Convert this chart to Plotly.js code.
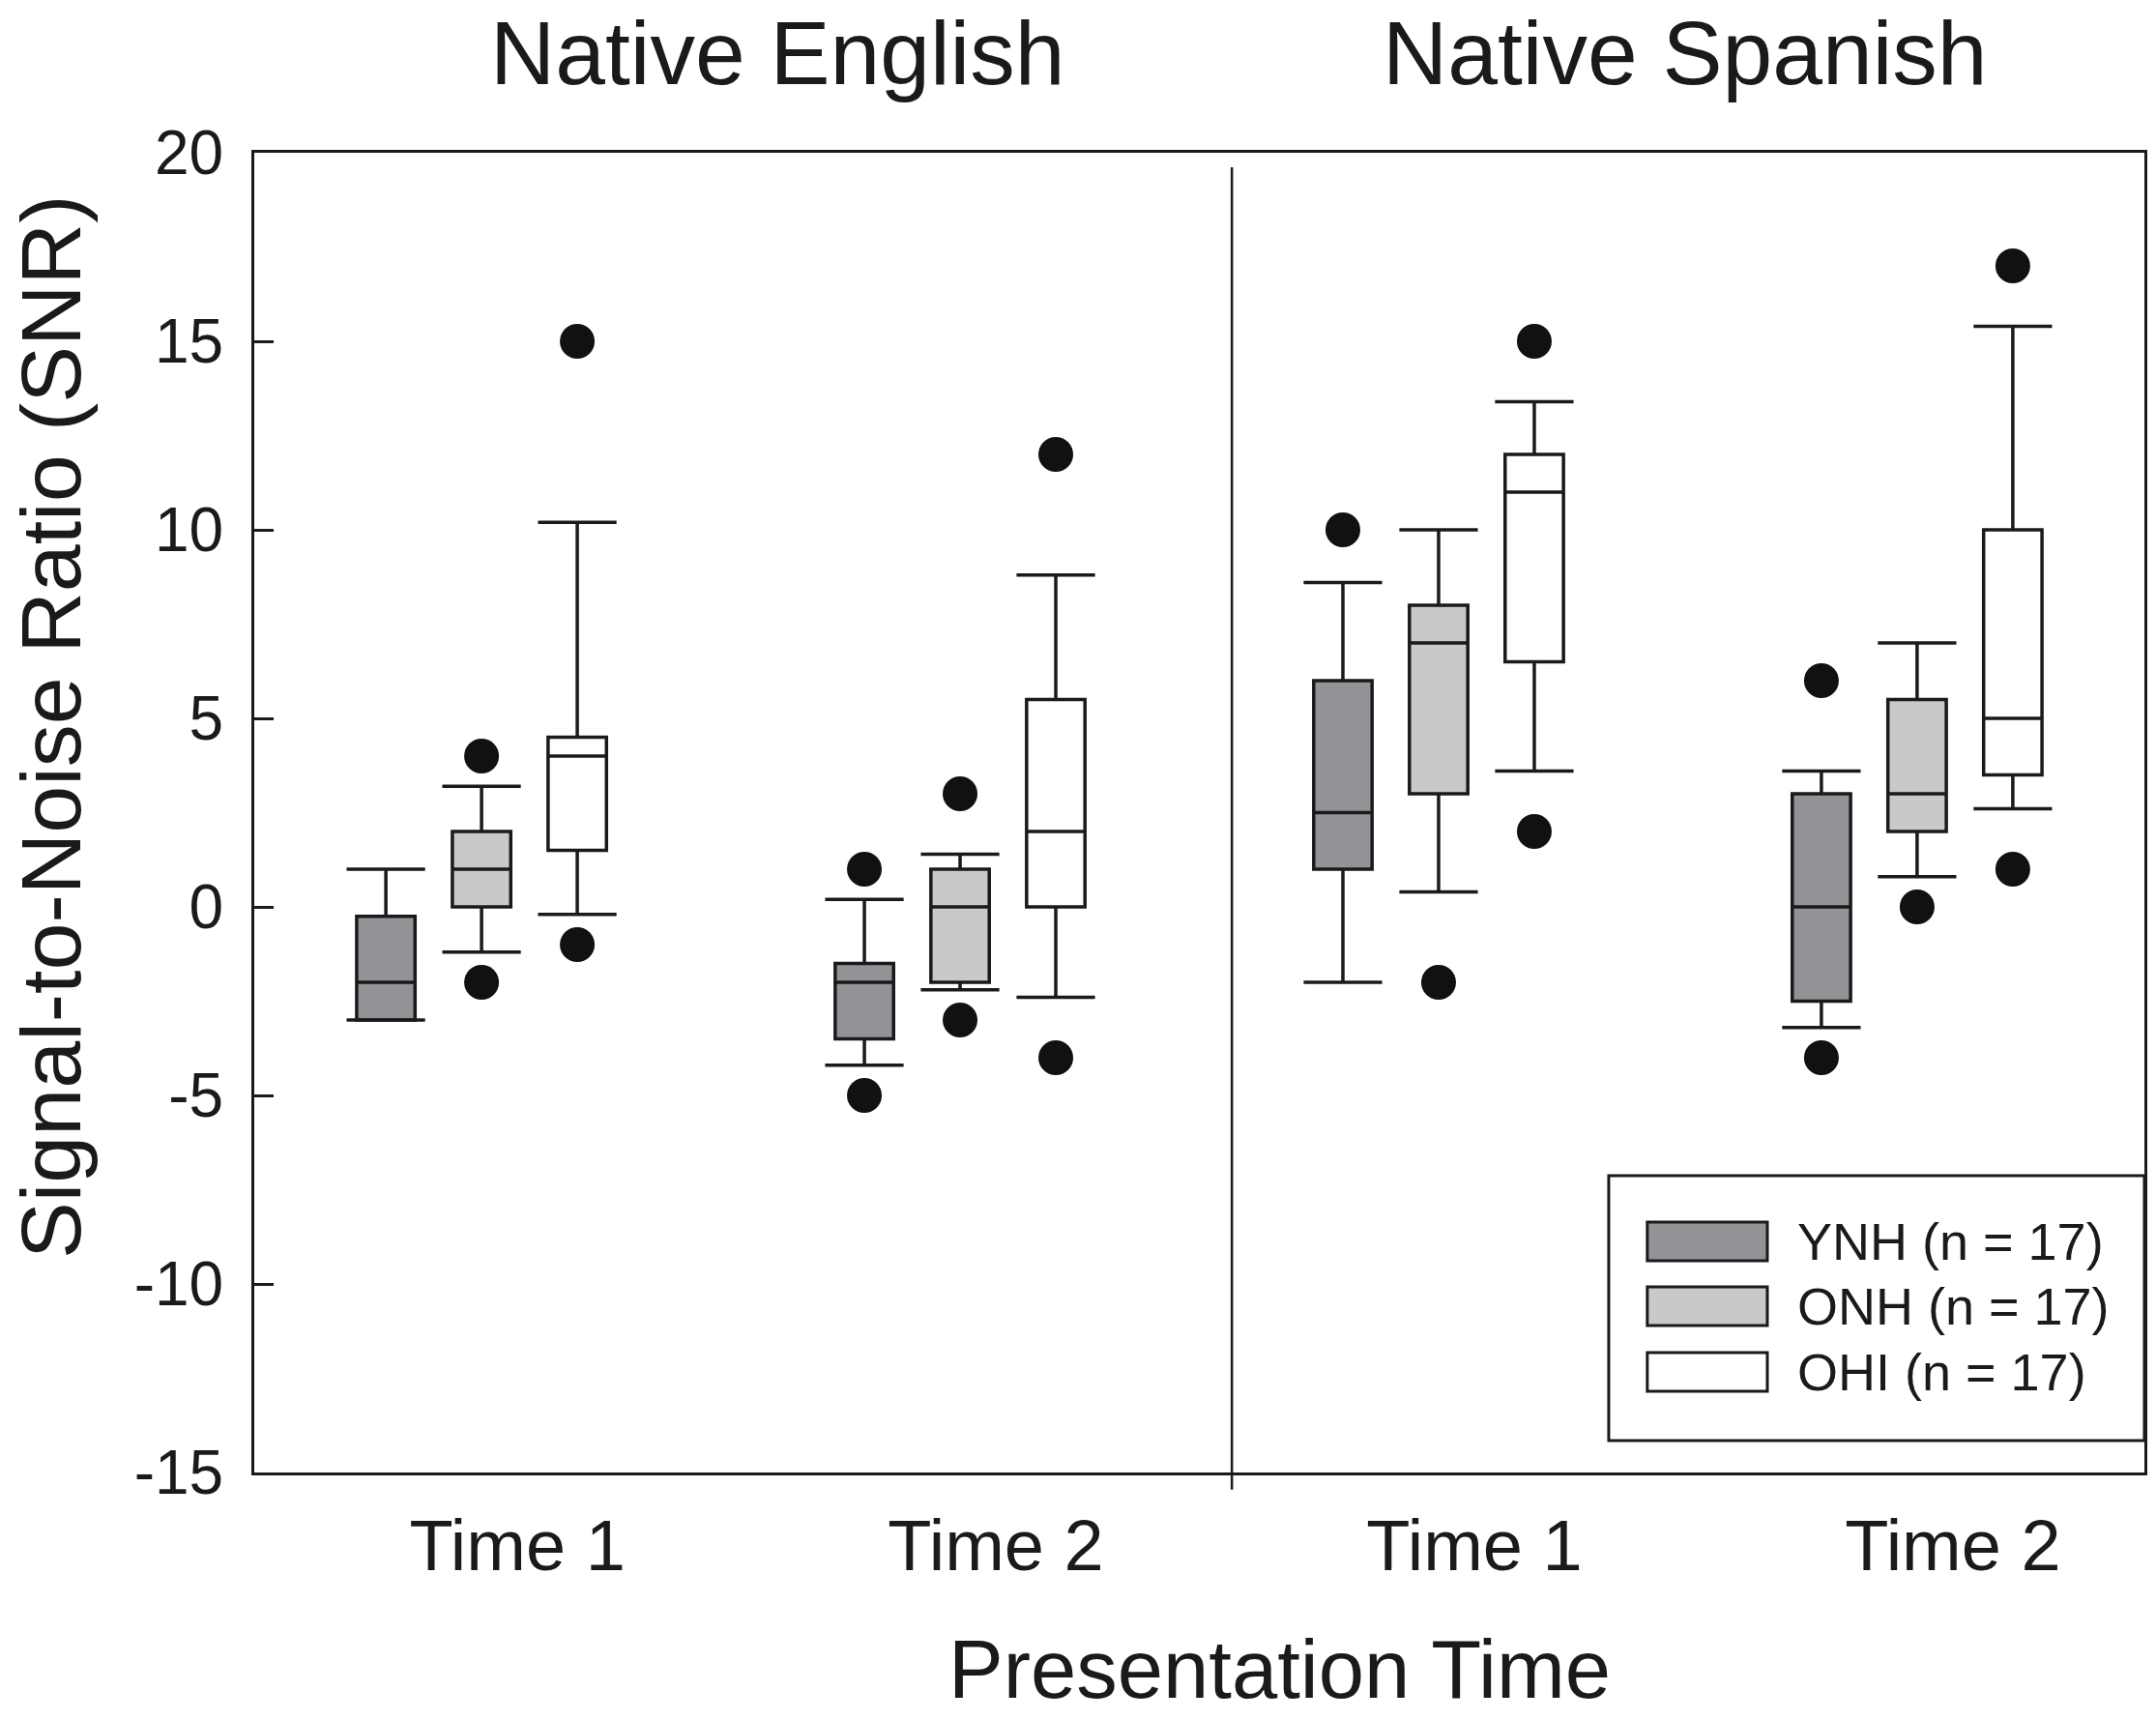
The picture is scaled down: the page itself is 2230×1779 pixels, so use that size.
<!DOCTYPE html>
<html>
<head>
<meta charset="utf-8">
<script src="https://cdn.plot.ly/plotly-3.0.1.min.js"></script>
<style>
  html, body { margin: 0; padding: 0; background: #fff; }
  #snr { width: 2230px; height: 1779px; }
</style>
</head>
<body>
<div id="snr"></div>
<script>
/***** SNR box plots by language group and presentation time *****/
var timeLabels = ['Time 1', 'Time 2', 'Time 1', 'Time 2'];
var panelTitles = ['Native English', 'Native Spanish'];
var groupNames = ['YNH (n = 17)', 'ONH (n = 17)', 'OHI (n = 17)'];
var groupFills = ['#929397', '#c8c9cb', '#ffffff'];
var yTickVals = [-15, -10, -5, 0, 5, 10, 15, 20];
var yTickText = ['-15', '-10', '-5', '0', '5', '10', '15', '20'];

// English T1, English T2, Spanish T1, Spanish T2
var ynhQ1 = [-3, -3.5, 1, -2.5];
var ynhMedian = [-2, -2, 2.5, 0];
var ynhQ3 = [-0.25, -1.5, 6, 3];
var ynhLow = [-3, -4.2, -2, -3.2];
var ynhHigh = [1, 0.2, 8.6, 3.6];
var ynhOutliers = [[], [1, -5], [10], [6, -4]];

var onhQ1 = [0, -2, 3, 2];
var onhMedian = [1, 0, 7, 3];
var onhQ3 = [2, 1, 8, 5.5];
var onhLow = [-1.2, -2.2, 0.4, 0.8];
var onhHigh = [3.2, 1.4, 10, 7];
var onhOutliers = [[4, -2], [3, -3], [-2], [0]];

var ohiQ1 = [1.5, 0, 6.5, 3.5];
var ohiMedian = [4, 2, 11, 5];
var ohiQ3 = [4.5, 5.5, 12, 10];
var ohiLow = [-0.2, -2.4, 3.6, 2.6];
var ohiHigh = [10.2, 8.8, 13.4, 15.4];
var ohiOutliers = [[15, -1], [12, -4], [15, 2], [17, 1]];

var stats = [
  {q1: ynhQ1, median: ynhMedian, q3: ynhQ3, low: ynhLow, high: ynhHigh, out: ynhOutliers},
  {q1: onhQ1, median: onhMedian, q3: onhQ3, low: onhLow, high: onhHigh, out: onhOutliers},
  {q1: ohiQ1, median: ohiMedian, q3: ohiQ3, low: ohiLow, high: ohiHigh, out: ohiOutliers}
];

var font = '"Liberation Sans", Arial, sans-serif';
var ink = '#1a1a1a';
var offsets = [-0.2, 0, 0.2];

var data = [];
stats.forEach(function(s, g) {
  var xs = timeLabels.map(function(t, i) { return i + offsets[g]; });

  data.push({
    type: 'box',
    name: groupNames[g],
    x: xs,
    q1: s.q1,
    median: s.median,
    q3: s.q3,
    lowerfence: s.low,
    upperfence: s.high,
    width: 0.122,
    whiskerwidth: 0,
    boxpoints: false,
    fillcolor: groupFills[g],
    line: {color: ink, width: 3.5},
    showlegend: false,
    hoverinfo: 'skip'
  });

  // whisker caps
  var capX = [], capY = [];
  xs.forEach(function(x, i) {
    capX.push(x, x);
    capY.push(s.low[i], s.high[i]);
  });
  data.push({
    type: 'scatter',
    mode: 'markers',
    x: capX,
    y: capY,
    marker: {symbol: 'line-ew', size: 58, color: ink, line: {color: ink, width: 3.5}},
    showlegend: false,
    hoverinfo: 'skip'
  });

  // outliers
  var outX = [], outY = [];
  s.out.forEach(function(vals, i) {
    vals.forEach(function(v) { outX.push(xs[i]); outY.push(v); });
  });
  data.push({
    type: 'scatter',
    mode: 'markers',
    x: outX,
    y: outY,
    marker: {symbol: 'circle', size: 36, color: '#111'},
    showlegend: false,
    hoverinfo: 'skip'
  });
});

var shapes = [
  // divider between language panels
  {type: 'line', xref: 'x', yref: 'paper', x0: 1.568, x1: 1.568, y0: -0.013, y1: 0.989,
   line: {color: ink, width: 2.5}},
  // legend frame
  {type: 'rect', xref: 'paper', yref: 'paper', x0: 0.7166, x1: 1.0, y0: 0.0242, y1: 0.2249,
   line: {color: ink, width: 3}, fillcolor: '#fff'}
];

var annotations = [
  {text: 'Signal-to-Noise Ratio (SNR)', xref: 'paper', yref: 'paper', x: -0.108, y: 0.5648,
   textangle: -90, showarrow: false, xanchor: 'center', yanchor: 'middle', borderpad: 0,
   font: {family: font, size: 88, color: ink}},
  {text: 'Presentation Time', xref: 'paper', yref: 'paper', x: 0.5427, y: -0.149,
   showarrow: false, xanchor: 'center', yanchor: 'middle', borderpad: 0,
   font: {family: font, size: 85, color: ink}}
];

var titleX = [0.619, 2.515];
panelTitles.forEach(function(t, i) {
  annotations.push({text: t, xref: 'x', yref: 'paper', x: titleX[i], y: 1.1145,
    showarrow: false, xanchor: 'center', yanchor: 'top', borderpad: 0,
    font: {family: font, size: 93, color: ink}});
});

var rowY = [0.1751, 0.1260, 0.0762];
groupNames.forEach(function(n, g) {
  shapes.push({type: 'rect', xref: 'paper', yref: 'paper', x0: 0.737, x1: 0.8005,
    y0: rowY[g] - 0.0147, y1: rowY[g] + 0.0147,
    fillcolor: groupFills[g], line: {color: ink, width: 3}});
  annotations.push({text: n, xref: 'paper', yref: 'paper', x: 0.8153, y: rowY[g],
    showarrow: false, xanchor: 'left', yanchor: 'middle',
    font: {family: font, size: 54, color: ink}});
});

var layout = {
  width: 2230,
  height: 1779,
  margin: {l: 263, r: 12, t: 158, b: 256},
  paper_bgcolor: '#fff',
  plot_bgcolor: '#fff',
  font: {family: font, color: ink},
  showlegend: false,
  xaxis: {
    range: [-0.475, 3.475],
    tickvals: [0, 1, 2, 3],
    ticktext: timeLabels,
    ticks: '',
    showgrid: false,
    zeroline: false,
    showline: true,
    mirror: true,
    linecolor: ink,
    linewidth: 3,
    ticklabelshift: 37,
    ticklabelstandoff: 9,
    tickfont: {family: font, size: 74, color: ink}
  },
  yaxis: {
    range: [-15, 20],
    tickvals: yTickVals,
    ticktext: yTickText,
    ticks: 'inside',
    ticklen: 20,
    tickwidth: 3,
    tickcolor: ink,
    showgrid: false,
    zeroline: false,
    showline: true,
    mirror: true,
    linecolor: ink,
    linewidth: 3,
    ticklabelstandoff: 16,
    tickfont: {family: font, size: 64, color: ink}
  },
  shapes: shapes,
  annotations: annotations
};

var config = {staticPlot: true, displayModeBar: false};
Plotly.newPlot('snr', data, layout, config);
</script>
</body>
</html>
